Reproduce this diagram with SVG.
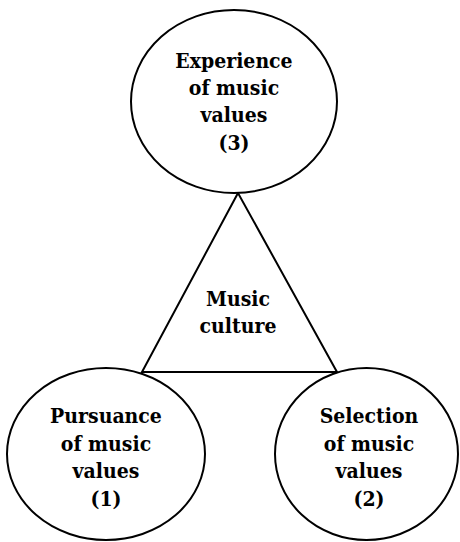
<svg xmlns="http://www.w3.org/2000/svg" width="460" height="542" viewBox="0 0 460 542">
<style>
.n{fill:#fff;stroke:#000;stroke-width:2}
text{font-family:'DejaVu Serif',serif;font-weight:700;font-stretch:condensed;font-size:21px;text-anchor:middle;fill:#000}
</style>
<rect width="460" height="542" fill="#fff"/>
<g id="connectors">
<polygon class="n" points="238,193 142,372 337,372"/>
</g>
<g id="center">
<text x="238" y="306">Music</text>
<text x="238" y="333">culture</text>
</g>
<g id="n3">
<ellipse class="n" cx="234" cy="101.5" rx="103" ry="91.5"/>
<text x="234" y="68">Experience</text>
<text x="234" y="95">of music</text>
<text x="234" y="122">values</text>
<text x="234" y="150">(3)</text>
</g>
<g id="n1">
<ellipse class="n" cx="106" cy="454" rx="99" ry="86"/>
<text x="106" y="423">Pursuance</text>
<text x="106" y="451">of music</text>
<text x="106" y="478">values</text>
<text x="106" y="506">(1)</text>
</g>
<g id="n2">
<ellipse class="n" cx="366.5" cy="454" rx="91.5" ry="86"/>
<text x="369" y="423">Selection</text>
<text x="369" y="451">of music</text>
<text x="369" y="478">values</text>
<text x="369" y="506">(2)</text>
</g>
</svg>
